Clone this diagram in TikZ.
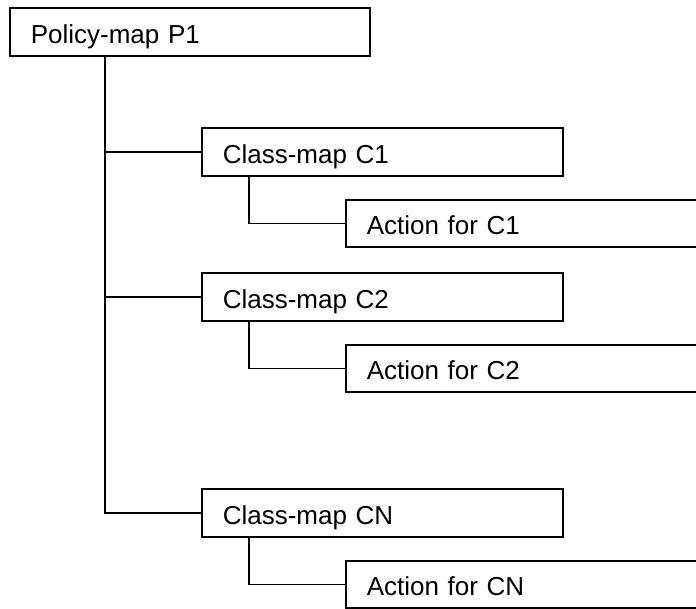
\documentclass[tikz,border=0pt]{standalone}
\usepackage{fontspec}
\setmainfont{Liberation Sans}
\usetikzlibrary{calc}
\tikzstyle{mapbox}=[draw, line width=1.6pt, anchor=north west, minimum height=48pt, text height=24pt, text depth=0pt, inner ysep=0pt, inner xsep=21pt, text width=318pt, font=\fontsize{26}{30}\selectfont]
\tikzstyle{actbox}=[mapbox, minimum height=47pt, text height=23pt, text width=400pt]

\begin{document}
\begin{tikzpicture}[x=1pt, y=1pt, line width=1.6pt]
\clip (0,0) rectangle (696,-608);
\node[mapbox] (p1) at (9,-7) {Policy-map P1};
\coordinate (t) at ([xshift=96pt]p1.south west);
\foreach \y/\n in {127/1,272/2,488/N}{
\node[mapbox, text width=319pt] (c\n) at (201,-\y) {Class-map C\n};
\node[actbox] (a\n) at (345,-\y-72) {Action for C\n};
\draw[line width=1.6pt] (c\n.west) -- (c\n.west -| t);
\draw[line width=1.6pt] ([xshift=48pt]c\n.south west) |- (a\n.west);
}
\draw (t) |- (cN.west);
\end{tikzpicture}
\end{document}
